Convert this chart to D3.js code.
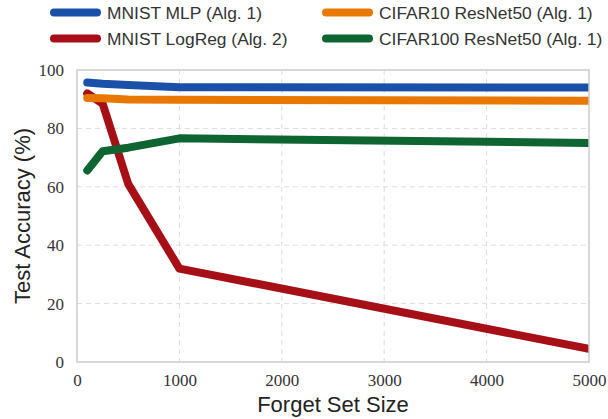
<!DOCTYPE html>
<html>
<head>
<meta charset="utf-8">
<script src="https://cdn.jsdelivr.net/npm/d3@7"></script>
<style>
  body { margin: 0; background: #fff; }
  svg { display: block; }
  .tick text { font-family: "Liberation Serif", "Times New Roman", "DejaVu Serif", serif !important; }
</style>
</head>
<body>
<svg id="chart" width="608" height="419"></svg>
<script>
// data
var forgetSizes = [100, 250, 500, 1000, 5000];
var mnistMlp = [95.7, 95.3, 94.9, 94.1, 94.0];
var mnistLogReg = [92.0, 88.5, 61.0, 32.0, 4.5];
var cifar10 = [90.4, 90.3, 89.9, 89.8, 89.5];
var cifar100 = [65.6, 72.2, 73.4, 76.6, 75.0];
var xTicks = [0, 1000, 2000, 3000, 4000, 5000];
var yTicks = [0, 20, 40, 60, 80, 100];

var series = [
  { name: "MNIST MLP (Alg. 1)", values: mnistMlp, color: "#1b50a8" },
  { name: "MNIST LogReg (Alg. 2)", values: mnistLogReg, color: "#a50f15" },
  { name: "CIFAR10 ResNet50 (Alg. 1)", values: cifar10, color: "#e87800" },
  { name: "CIFAR100 ResNet50 (Alg. 1)", values: cifar100, color: "#0e6531" }
];

var svg = d3.select("#chart"),
  plotL = 77, plotR = 589, plotT = 70, plotB = 362;

var sans = "'Liberation Sans', Arial, Helvetica, sans-serif";

var x = d3.scaleLinear().domain([0, 5000]).range([plotL, plotR]);
var y = d3.scaleLinear().domain([0, 100]).range([plotB, plotT]);

// grid
svg.append("g")
  .selectAll("line")
  .data(xTicks.slice(1, -1))
  .join("line")
  .attr("x1", d => x(d)).attr("x2", d => x(d))
  .attr("y1", plotT).attr("y2", plotB)
  .attr("stroke", "#dcdcdc").attr("stroke-width", 1).attr("stroke-dasharray", "5,4");
svg.append("g")
  .selectAll("line")
  .data(yTicks.slice(1, -1))
  .join("line")
  .attr("x1", plotL).attr("x2", plotR)
  .attr("y1", d => y(d)).attr("y2", d => y(d))
  .attr("stroke", "#dcdcdc").attr("stroke-width", 1).attr("stroke-dasharray", "5,4");

// axes (labels only, the frame is drawn separately)
var xAxis = svg.append("g")
  .attr("transform", `translate(0,${plotB})`)
  .call(d3.axisBottom(x).tickValues(xTicks).tickFormat(d3.format("d")).tickSize(0).tickPadding(12));
var yAxis = svg.append("g")
  .attr("transform", `translate(${plotL},0)`)
  .call(d3.axisLeft(y).tickValues(yTicks).tickFormat(d3.format("d")).tickSize(0).tickPadding(13));
[xAxis, yAxis].forEach(a => {
  a.select(".domain").remove();
  a.attr("font-family", null).attr("font-size", 17);
  a.selectAll("text").attr("fill", "#333");
});

// lines
svg.append("clipPath").attr("id", "plotclip")
  .append("rect").attr("x", plotL).attr("y", plotT - 10)
  .attr("width", plotR - plotL).attr("height", plotB - plotT + 10);

var line = d3.line()
  .x((d, i) => x(forgetSizes[i]))
  .y(d => y(d));

svg.append("g").attr("clip-path", "url(#plotclip)")
  .selectAll("path")
  .data(series)
  .join("path")
  .attr("d", d => line(d.values))
  .attr("fill", "none")
  .attr("stroke", d => d.color)
  .attr("stroke-width", 8)
  .attr("stroke-linecap", "round")
  .attr("stroke-linejoin", "round");

// frame
svg.append("rect")
  .attr("x", plotL).attr("y", plotT)
  .attr("width", plotR - plotL).attr("height", plotB - plotT)
  .attr("fill", "none").attr("stroke", "#cccccc").attr("stroke-width", 1.5);

// axis titles
svg.append("text")
  .attr("x", (plotL + plotR) / 2).attr("y", 412)
  .attr("text-anchor", "middle")
  .style("font-family", sans)
  .style("font-size", "22px").attr("fill", "#222")
  .text("Forget Set Size");
svg.append("text")
  .attr("transform", `translate(30,${(plotT + plotB) / 2}) rotate(-90)`)
  .attr("text-anchor", "middle")
  .style("font-family", sans)
  .style("font-size", "22px").attr("fill", "#222")
  .text("Test Accuracy (%)");

// legend, two columns
var legendPos = [[54, 12.5], [54, 38.5], [326, 12.5], [326, 38.5]];
var legend = svg.append("g")
  .selectAll("g")
  .data(series)
  .join("g")
  .attr("transform", (d, i) => `translate(${legendPos[i][0]},${legendPos[i][1]})`);
legend.append("line")
  .attr("x1", 0).attr("x2", 43)
  .attr("stroke", d => d.color)
  .attr("stroke-width", 8)
  .attr("stroke-linecap", "round");
legend.append("text")
  .attr("x", 53).attr("dy", "0.35em")
  .style("font-family", sans)
  .style("font-size", "17.4px").attr("fill", "#333")
  .text(d => d.name);
</script>
</body>
</html>
